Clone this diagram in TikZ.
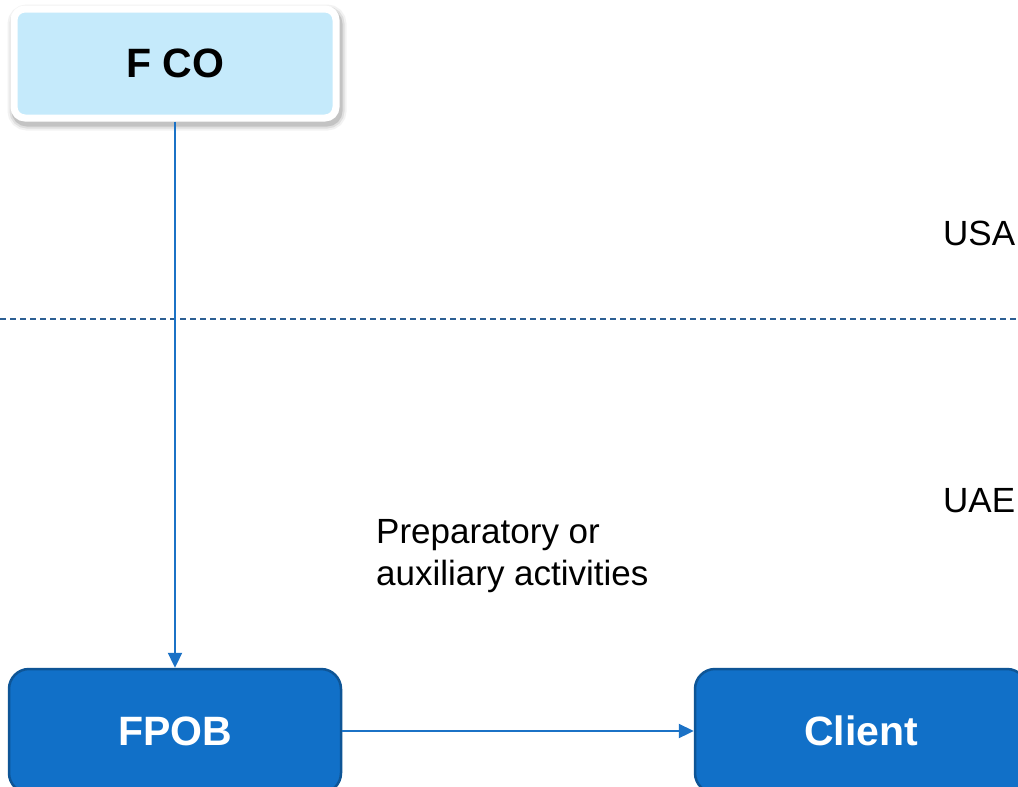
\documentclass[tikz,border=0pt]{standalone}
\usepackage{fontspec}
\setmainfont{Liberation Sans}
\usetikzlibrary{arrows.meta}
\definecolor{paleblue}{HTML}{C5EAFB}
\definecolor{boxblue}{HTML}{1170C8}
\definecolor{boxedge}{HTML}{0E5596}
\definecolor{linkblue}{HTML}{1B72C6}
\definecolor{dashblue}{HTML}{2C5F93}
\tikzset{
  topbox/.style={rectangle, rounded corners=11pt, fill=paleblue, draw=white,
    line width=7pt, minimum width=322pt, minimum height=109pt,
    font=\fontsize{41}{45}\selectfont\bfseries, text=black,
    preaction={draw=black, opacity=0.05, line width=17pt, transform canvas={shift={(2,4)}}},
    preaction={draw=black, opacity=0.08, line width=13pt, transform canvas={shift={(2,4)}}},
    preaction={draw=black, opacity=0.12, line width=9pt, transform canvas={shift={(2,4)}}}},
  bluebox/.style={rectangle, rounded corners=20pt, fill=boxblue, draw=boxedge,
    line width=2.5pt, minimum width=332pt, minimum height=124pt,
    font=\fontsize{41}{45}\selectfont\bfseries, text=white},
  link/.style={draw=linkblue, line width=2.3pt,
    -{Triangle[length=15pt,width=14pt]}},
  region/.style={font=\fontsize{35}{40}\selectfont, anchor=base west, inner sep=0pt},
  note/.style={font=\fontsize{35}{42}\selectfont, align=left, anchor=base west, inner sep=0pt},
  border/.style={draw=dashblue, line width=1.2pt, dash pattern=on 6pt off 4pt}
}
\begin{document}
\begin{tikzpicture}[x=1pt,y=-1pt]
  \useasboundingbox (0,0) rectangle (1018,787);
  \clip (0,0) rectangle (1018,787);
  \fill[white] (0,0) rectangle (1018,787);

  % boundary between the two countries
  \coordinate (bl) at (0,319);
  \coordinate (br) at (1018,319);
  \draw[border] (bl) -- (br);

  % country labels
  \node[region] (usa) at (943,245) {USA};
  \node[region] (uae) at (943,512) {UAE};

  % entities
  \node[topbox] (fco) at (175,63.5) {F CO};
  \node[bluebox] (fpob) at (175,731) {FPOB};
  \node[bluebox] (client) at (861,731) {Client};

  % activity note (anchored on the baseline of its last line)
  \node[note] (act) at (376,585) {Preparatory or\\auxiliary activities};

  % connectors
  \draw[link] (fco.south) -- (fpob.north);
  \draw[link] (fpob.east) -- (client.west);
\end{tikzpicture}
\end{document}
